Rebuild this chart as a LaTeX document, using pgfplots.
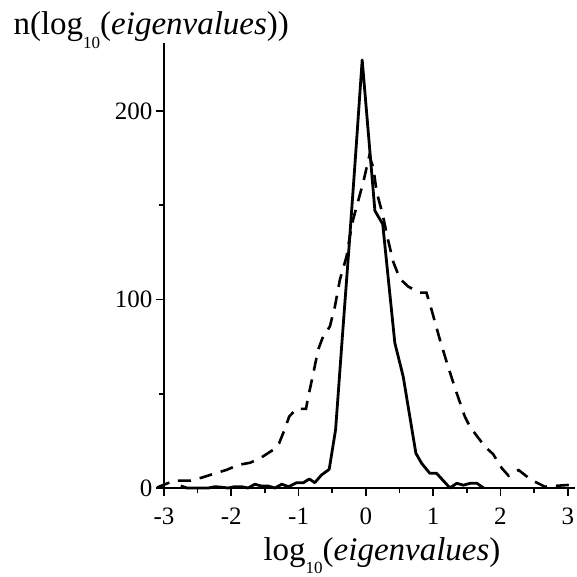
\documentclass[border=0pt]{standalone}
\usepackage{fontspec}
\setmainfont{Liberation Serif}
\usepackage{pgfplots}
\pgfplotsset{compat=1.18}
\newcommand\sub[1]{\raisebox{-0.4em}{\fontsize{17}{17}\selectfont #1}}
\begin{document}
\begin{tikzpicture}
\begin{axis}[
  name=ax,
  scale only axis,
  width=410.5pt, height=445pt,
  xmin=-3, xmax=3.1, ymin=0, ymax=236,
  axis x line*=bottom, axis y line*=left,
  axis line style={line width=1.6pt},
  xtick={-3,...,3}, xticklabels={-3,-2,-1,0,1,2,3},
  ytick={0,100,200},
  minor xtick={-2.5,-1.5,...,2.5},
  minor ytick={50,150},
  tick align=outside,
  major tick length=8pt, minor tick length=5pt,
  every tick/.style={line width=1.6pt, black},
  tick label style={font=\fontsize{25}{25}\selectfont},
  xticklabel style={yshift=-8pt},
  /pgf/number format/assume math mode=true,
  xlabel={log\sub{10}(\textit{eigenvalues})},
  ylabel={n(log\sub{10}(\textit{eigenvalues}))},
  every axis x label/.style={at={(axis description cs:0,0)}, anchor=base west,
    xshift=96pt, yshift=-72pt, font=\fontsize{33}{33}\selectfont},
  every axis y label/.style={at={(axis description cs:0,1)}, anchor=base west,
    xshift=-154pt, yshift=8pt, font=\fontsize{33}{33}\selectfont},
  clip=false,
]
% narrow distribution (solid)
\addplot[black, line width=2.8pt, line join=round] coordinates {
  (-2.75,1.1) (-2.66,0) (-2.57,0) (-2.47,0) (-2.34,0) (-2.24,0.7) (-2.14,0.4)
  (-2.05,0) (-1.95,0.7) (-1.85,0.7) (-1.75,0) (-1.65,2) (-1.55,1) (-1.45,1)
  (-1.35,0) (-1.25,2) (-1.15,0.7) (-1.03,2.8) (-0.93,2.8) (-0.84,4.8)
  (-0.76,2.8) (-0.66,6.9) (-0.545,9.9) (-0.45,31) (-0.35,80) (-0.25,128)
  (-0.15,178) (-0.055,227) (0.134,147) (0.25,140) (0.43,77) (0.555,59)
  (0.743,18.4) (0.83,13) (0.95,7.8) (1.05,7.8) (1.25,0) (1.35,2.5) (1.45,1.5)
  (1.55,2.5) (1.65,2.5) (1.75,0)
};
% broad distribution (dashed)
\addplot[black, line width=2.6pt, dash pattern=on 13pt off 9pt] coordinates {
  (-3.1,0.3) (-2.85,3.9) (-2.6,3.9) (-2.42,5.7) (-2.24,7.8) (-2.07,9.6)
  (-1.9,12.2) (-1.72,13.4) (-1.57,15.8) (-1.38,20.2) (-1.29,23.7) (-1.2,31.7)
  (-1.14,37.9) (-1.03,42) (-0.89,42) (-0.856,48.5) (-0.78,61) (-0.71,73.3)
  (-0.645,79.5) (-0.535,85.7) (-0.46,96.3) (-0.386,110.5) (-0.287,122.8)
  (-0.238,133.5) (-0.19,142.3) (-0.123,151.2) (-0.04,162) (0.05,176)
  (0.11,170) (0.16,157) (0.25,145) (0.32,133) (0.406,120) (0.505,111)
  (0.63,106.8) (0.8,103.6) (0.9,103.6) (0.976,94.5) (1.1,78.6) (1.22,64.5)
  (1.35,50.3) (1.47,37.9) (1.545,32.6) (1.62,29) (1.77,21.9) (1.89,18)
  (2.02,10.5) (2.12,6.5) (2.27,9.5) (2.46,4.2) (2.66,0.7) (2.81,1.1)
  (3.0,1.6) (3.1,0.4)
};
\end{axis}
\pgfresetboundingbox
\path[use as bounding box] ([xshift=-164pt,yshift=-89pt]ax.south west) rectangle ++(577pt,577pt);
\end{tikzpicture}
\end{document}
